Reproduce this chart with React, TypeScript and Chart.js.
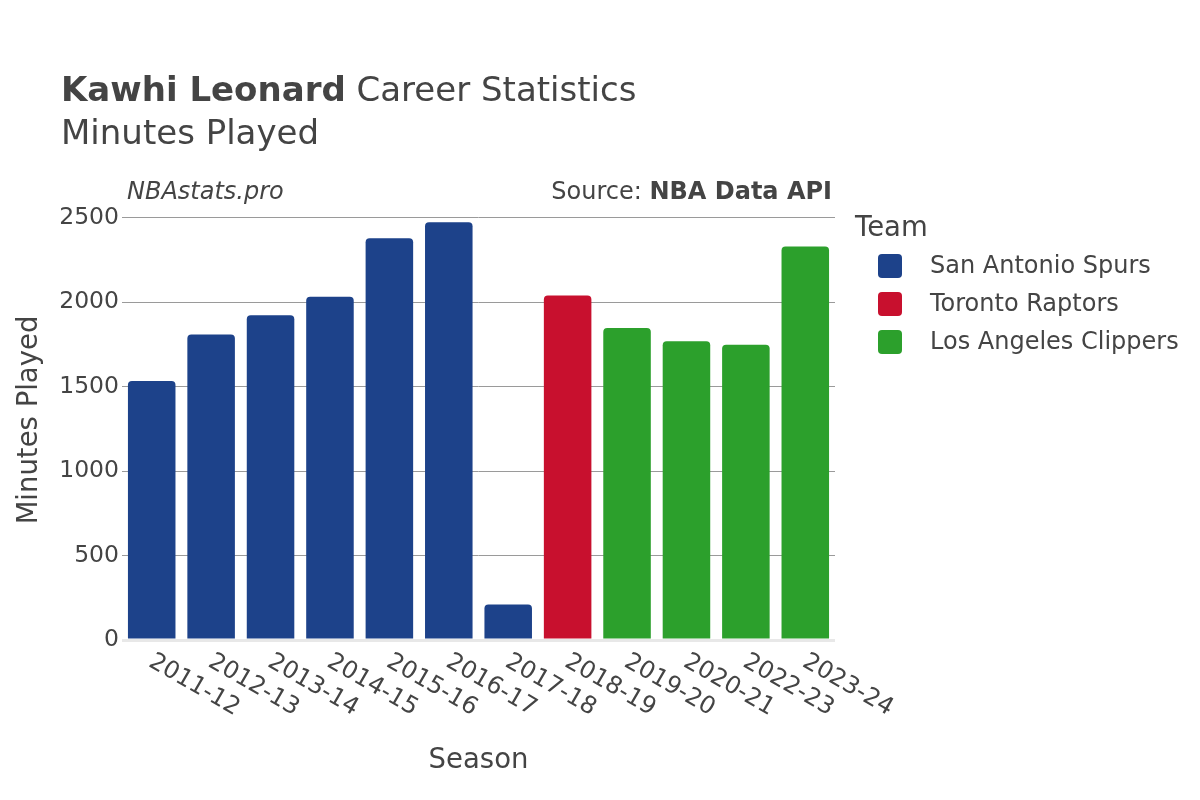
import React, { useEffect, useRef } from "react";
import { Chart, registerables } from "chart.js";

Chart.register(...registerables);

const seasons = ["2011-12", "2012-13", "2013-14", "2014-15", "2015-16", "2016-17", "2017-18", "2018-19", "2019-20", "2020-21", "2022-23", "2023-24"];
const minutes = [1534, 1810, 1923, 2033, 2380, 2474, 210, 2040, 1848, 1770, 1748, 2330];
const seasonTeams = ["San Antonio Spurs", "San Antonio Spurs", "San Antonio Spurs", "San Antonio Spurs", "San Antonio Spurs", "San Antonio Spurs", "San Antonio Spurs", "Toronto Raptors", "Los Angeles Clippers", "Los Angeles Clippers", "Los Angeles Clippers", "Los Angeles Clippers"];
const teams = ["San Antonio Spurs", "Toronto Raptors", "Los Angeles Clippers"];
const teamColors = ["#1d428a", "#c8102e", "#2ca02c"];
const yTicks = [0, 500, 1000, 1500, 2000, 2500];

const FONT = "'DejaVu Sans', sans-serif";
const TEXT = "#444";

const overlay = {
  id: "overlay",
  afterDraw(chart: any) {
    const ctx = chart.ctx;
    const area = chart.chartArea;
    ctx.save();
    ctx.fillStyle = TEXT;
    ctx.textBaseline = "alphabetic";
    // Title
    ctx.textAlign = "left";
    ctx.font = `bold 34px ${FONT}`;
    const t1 = "Kawhi Leonard";
    ctx.fillText(t1, 61, 101);
    const w1 = ctx.measureText(t1).width;
    ctx.font = `34px ${FONT}`;
    ctx.fillText(" Career Statistics", 61 + w1, 101);
    ctx.fillText("Minutes Played", 61, 144);
    // Subtitle line
    ctx.font = `italic 24px ${FONT}`;
    ctx.fillText("NBAstats.pro", 127, 199);
    ctx.textAlign = "right";
    ctx.font = `bold 24px ${FONT}`;
    const src = "NBA Data API";
    ctx.fillText(src, 832, 199);
    const ws = ctx.measureText(src).width;
    ctx.font = `24px ${FONT}`;
    ctx.fillText("Source: ", 832 - ws, 199);
    // Axis titles
    ctx.textAlign = "center";
    ctx.textBaseline = "middle";
    ctx.font = `27.5px ${FONT}`;
    ctx.fillText("Season", (area.left + area.right) / 2, 761);
    ctx.save();
    ctx.translate(30, (area.top + area.bottom) / 2);
    ctx.rotate(-Math.PI / 2);
    ctx.fillText("Minutes Played", 0, 0);
    ctx.restore();
    // X labels
    const xs = chart.scales.x;
    ctx.font = `24px ${FONT}`;
    ctx.textAlign = "left";
    ctx.textBaseline = "middle";
    chart.data.labels.forEach((lab: string, i: number) => {
      const x = xs.getPixelForValue(i);
      ctx.save();
      ctx.translate(x - 1, area.bottom + 20);
      ctx.rotate(Math.PI / 6);
      ctx.fillText(lab, 0, 0);
      ctx.restore();
    });
    // Legend
    ctx.textAlign = "left";
    ctx.textBaseline = "alphabetic";
    ctx.font = `27.5px ${FONT}`;
    ctx.fillText("Team", 855, 236);
    ctx.font = `24px ${FONT}`;
    ctx.textBaseline = "middle";
    chart.data.datasets.forEach((ds: any, i: number) => {
      const cy = 266 + i * 38;
      ctx.fillStyle = ds.backgroundColor;
      ctx.beginPath();
      (ctx as any).roundRect(878, cy - 12, 24, 24, 4);
      ctx.fill();
      ctx.fillStyle = TEXT;
      ctx.fillText(ds.label, 930, cy + 1);
    });
    ctx.restore();
  },
};

export default function App() {
  const ref = useRef<HTMLCanvasElement | null>(null);
  useEffect(() => {
    if (!ref.current) return;
    const datasets = teams.map((team, ti) => ({
      label: team,
      data: minutes.map((m, i) => (seasonTeams[i] === team ? m : null)),
      backgroundColor: teamColors[ti],
      borderRadius: 4,
      borderSkipped: "bottom" as const,
      barPercentage: 0.8,
      categoryPercentage: 1,
    }));
    const chart = new Chart(ref.current, {
      type: "bar",
      data: { labels: seasons, datasets },
      options: {
        responsive: false,
        animation: false,
        devicePixelRatio: 1,
        layout: { padding: { top: 200, right: 365, left: 0, bottom: 0 } },
        plugins: { legend: { display: false }, tooltip: { enabled: false }, title: { display: false } },
        scales: {
          x: {
            stacked: true,
            grid: { display: false },
            border: { display: false },
            ticks: { display: false },
            afterFit(scale: any) {
              scale.height = 160;
            },
          },
          y: {
            stacked: true,
            min: 0,
            max: 2606,
            border: { display: false },
            afterBuildTicks(scale: any) {
              scale.ticks = yTicks.map((v) => ({ value: v }));
            },
            afterFit(scale: any) {
              scale.width = 122;
            },
            grid: {
              drawTicks: false,
              color: (c: any) => (c.tick && c.tick.value === 0 ? "#e8e8e8" : "#9a9a9a"),
              lineWidth: (c: any) => (c.tick && c.tick.value === 0 ? 3 : 1),
            },
            ticks: {
              padding: 3,
              color: TEXT,
              font: { family: FONT, size: 23.5 },
              callback: (v: any) => String(v),
            },
          },
        },
      },
      plugins: [overlay],
    });
    return () => chart.destroy();
  }, []);
  return (
    <div style={{ position: "fixed", left: 0, top: 0, width: 1200, height: 800, background: "#fff" }}>
      <canvas ref={ref} width={1200} height={800} style={{ width: 1200, height: 800 }} />
    </div>
  );
}
